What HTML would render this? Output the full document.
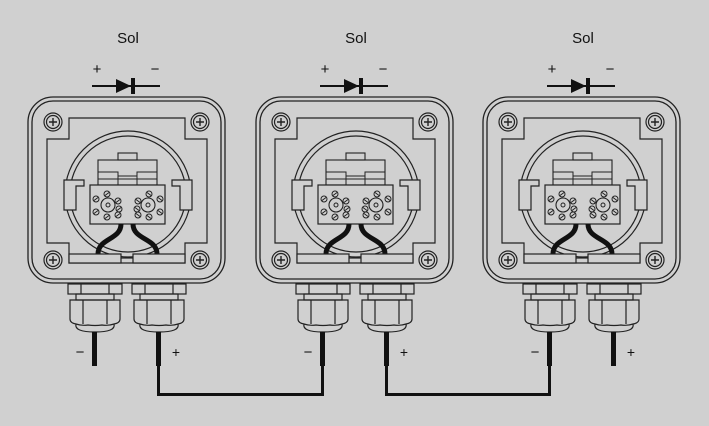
<!DOCTYPE html>
<html><head><meta charset="utf-8"><style>
html,body{margin:0;padding:0;background:#d0d0d0;}
svg{display:block}
text{font-family:"Liberation Sans",sans-serif;fill:#111}
</style></head><body>
<svg width="709" height="426" viewBox="0 0 709 426" xmlns="http://www.w3.org/2000/svg">
<defs>
<g id="scr"><circle r="9" fill="none" stroke="#222" stroke-width="1.2"/><circle r="6.5" fill="none" stroke="#222" stroke-width="1.2"/><path d="M-4 0H4M0 -4V4" stroke="#222" stroke-width="1.4"/></g>
<g id="ts"><circle r="3" fill="none" stroke="#222" stroke-width="1"/><path d="M-2 1.5L2 -1.5" stroke="#222" stroke-width="1"/></g>
<g id="term"><circle r="7" fill="none" stroke="#222" stroke-width="1.1"/><circle r="2" fill="none" stroke="#222" stroke-width="1"/>
<use href="#ts" x="-12" y="-6"/><use href="#ts" x="-1" y="-11"/><use href="#ts" x="10" y="-4"/><use href="#ts" x="11" y="4"/><use href="#ts" x="10" y="10"/><use href="#ts" x="-1" y="12"/><use href="#ts" x="-12" y="7"/></g>
<g id="gland" fill="none" stroke="#222" stroke-width="1.2">
<rect x="0" y="0" width="54" height="10"/><path d="M13 0V10M41 0V10"/>
<rect x="8" y="10" width="38" height="6"/>
<path d="M2 16H52V35Q52 39 46 40Q40 42 34 41Q27 42 20 41Q14 42 8 40Q2 39 2 35Z"/>
<path d="M15 16V40M39 16V40"/>
<path d="M8 40Q6 48 27 48Q48 48 46 40"/>
</g>
<g id="unit">
<text x="128" y="43" font-size="15" text-anchor="middle">Sol</text>
<text x="97" y="74" font-size="15" text-anchor="middle">+</text>
<text x="155" y="74" font-size="15" text-anchor="middle">−</text>
<path d="M92 86H160" stroke="#111" stroke-width="2"/>
<path d="M116 79L131 86L116 93Z" fill="#111"/>
<rect x="131" y="78" width="4" height="16" fill="#111"/>
<rect x="28" y="97" width="197" height="186" rx="25" fill="none" stroke="#222" stroke-width="1.3"/>
<rect x="32" y="101" width="189" height="178" rx="21" fill="none" stroke="#222" stroke-width="1.3"/>
<path d="M69 118H185V139H207V243H185V263H69V243H47V139H69Z" fill="none" stroke="#222" stroke-width="1.2"/>
<use href="#scr" x="53" y="122"/><use href="#scr" x="200" y="122"/><use href="#scr" x="53" y="260"/><use href="#scr" x="200" y="260"/>
<circle cx="128" cy="194" r="63" fill="#d0d0d0" stroke="#222" stroke-width="1.2"/>
<circle cx="128" cy="194" r="58" fill="none" stroke="#222" stroke-width="1.2"/>
<path d="M64 180H84V186H76V210H64Z M192 180H172V186H180V210H192Z" fill="#d0d0d0" stroke="#222" stroke-width="1.2"/>
<rect x="118" y="153" width="19" height="7" fill="none" stroke="#222" stroke-width="1.1"/>
<rect x="98" y="160" width="59" height="25" fill="none" stroke="#222" stroke-width="1.1"/>
<path d="M98 172H118V176H137V172H157M98 179H157M118 176V185M137 176V185" fill="none" stroke="#222" stroke-width="1"/>
<rect x="90" y="185" width="75" height="39" fill="#d0d0d0" stroke="#222" stroke-width="1.2"/>
<use href="#term" x="108" y="205"/><use href="#term" x="148" y="205" transform="translate(296 0) scale(-1 1)"/>
<path d="M121 224C121 240 98 238 98 254M133 224C133 240 157 238 157 254" fill="none" stroke="#111" stroke-width="5"/>
<rect x="69" y="254" width="52" height="9" fill="#d0d0d0" stroke="#222" stroke-width="1.2"/>
<rect x="133" y="254" width="52" height="9" fill="#d0d0d0" stroke="#222" stroke-width="1.2"/>
<path d="M121 258H133" stroke="#222" stroke-width="1.2"/>
<use href="#gland" x="68" y="284"/><use href="#gland" x="132" y="284"/>
<rect x="92" y="332" width="5" height="34" fill="#111"/>
<rect x="156" y="332" width="5" height="34" fill="#111"/>
<text x="80" y="357" font-size="15" text-anchor="middle">−</text>
<text x="176" y="357" font-size="14" text-anchor="middle">+</text>
</g>
</defs>
<rect width="709" height="426" fill="#d0d0d0"/>
<use href="#unit"/>
<use href="#unit" x="228"/>
<use href="#unit" x="455"/>
<path d="M158.5 360V394.5H322.5V360M386.5 360V394.5H549.5V360" fill="none" stroke="#111" stroke-width="3"/>
</svg>
</body></html>
